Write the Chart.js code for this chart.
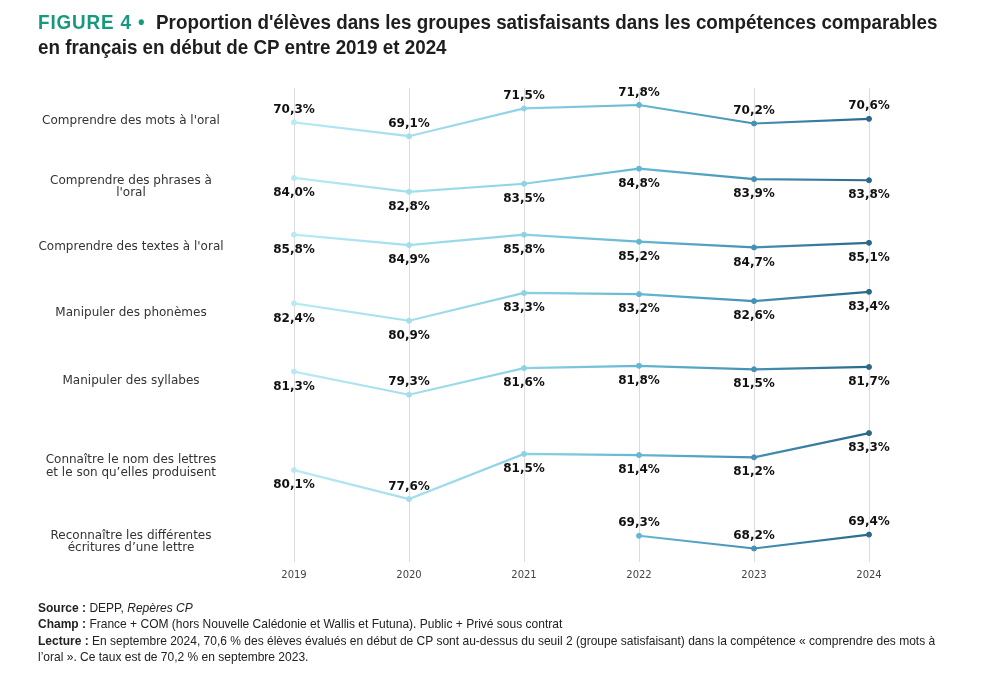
<!DOCTYPE html>
<html lang="fr">
<head>
<meta charset="utf-8">
<script src="https://cdn.jsdelivr.net/npm/chart.js@4"></script>
<style>
  body { margin: 0; background: #fff; }
  #page { position: relative; width: 1000px; height: 674px; overflow: hidden; }
  #myChart { position: absolute; left: 0; top: 0; }
  .title { position: absolute; left: 38px; top: 9px; white-space: nowrap; transform: scaleX(0.896); transform-origin: 0 0; font-family: "Liberation Sans", sans-serif; font-weight: bold; font-size: 21px; line-height: 25px; color: #1e1e1e; }
  .title .fig { color: #17997f; letter-spacing: 1px; }
  .notes { position: absolute; left: 38px; top: 600px; white-space: nowrap; transform: scaleX(0.924); transform-origin: 0 0; font-family: "Liberation Sans", sans-serif; font-size: 13px; line-height: 16.4px; color: #222; }
</style>
</head>
<body>
<div id="page">
  <canvas id="myChart" width="1000" height="674"></canvas>
  <div class="title"><span class="fig">FIGURE 4 &bull;</span>&nbsp; Proportion d'élèves dans les groupes satisfaisants dans les compétences comparables<br>en français en début de CP entre 2019 et 2024</div>
  <div class="notes">
    <b>Source :</b> DEPP, <i>Repères CP</i><br>
    <b>Champ :</b> France + COM (hors Nouvelle Calédonie et Wallis et Futuna). Public + Privé sous contrat<br>
    <b>Lecture :</b> En septembre 2024, 70,6 % des élèves évalués en début de CP sont au-dessus du seuil 2 (groupe satisfaisant) dans la compétence « comprendre des mots à<br>l’oral ». Ce taux est de 70,2 % en septembre 2023.
  </div>
</div>
<script>
// data
var years = ['2019', '2020', '2021', '2022', '2023', '2024'];
var competences = [
    ['Comprendre des mots à l\'oral'],
    ['Comprendre des phrases à', 'l\'oral'],
    ['Comprendre des textes à l\'oral'],
    ['Manipuler des phonèmes'],
    ['Manipuler des syllabes'],
    ['Connaître le nom des lettres', 'et le son qu’elles produisent'],
    ['Reconnaître les différentes', 'écritures d’une lettre']
];
var motsOral = [70.3, 69.1, 71.5, 71.8, 70.2, 70.6];
var phrasesOral = [84.0, 82.8, 83.5, 84.8, 83.9, 83.8];
var textesOral = [85.8, 84.9, 85.8, 85.2, 84.7, 85.1];
var phonemes = [82.4, 80.9, 83.3, 83.2, 82.6, 83.4];
var syllabes = [81.3, 79.3, 81.6, 81.8, 81.5, 81.7];
var nomSonLettres = [80.1, 77.6, 81.5, 81.4, 81.2, 83.3];
var ecrituresLettre = [null, null, null, 69.3, 68.2, 69.4];

// layout: each row gets its own hidden y axis, same spread, shifted down
var rowTop = [73.27, 91.78, 98.49, 101.03, 105.83, 113.15, 108.03];
var rowSpan = 41;
var rowLabelY = [121, 187, 247, 313, 381, 466.5, 541.7];
var labelSide = [
    ['up', 'up', 'up', 'up', 'up', 'up'],
    ['dn', 'dn', 'dn', 'dn', 'dn', 'dn'],
    ['dn', 'dn', 'dn', 'dn', 'dn', 'dn'],
    ['dn', 'dn', 'dn', 'dn', 'dn', 'dn'],
    ['dn', 'up', 'dn', 'dn', 'dn', 'dn'],
    ['dn', 'up', 'dn', 'dn', 'dn', 'dn'],
    ['up', 'up', 'up', 'up', 'up', 'up']
];

var gradCache = null;
function lineGradient(context) {
    var chart = context.chart;
    var area = chart.chartArea;
    if (!area) return '#7fc8dc';
    if (!gradCache) {
        gradCache = chart.ctx.createLinearGradient(area.left, 0, area.right, 0);
        gradCache.addColorStop(0, '#b8eaf4');
        gradCache.addColorStop(0.4, '#8dd2e5');
        gradCache.addColorStop(0.6, '#64b7d2');
        gradCache.addColorStop(0.8, '#4591b4');
        gradCache.addColorStop(1, '#2b6989');
    }
    return gradCache;
}

var rowLabels = {
    id: 'rowLabels',
    afterDraw: function(chart) {
        var ctx = chart.ctx;
        ctx.save();
        ctx.font = '12px "DejaVu Sans"';
        ctx.fillStyle = '#333';
        ctx.textAlign = 'center';
        ctx.textBaseline = 'middle';
        competences.forEach(function(lines, i) {
            var y0 = rowLabelY[i] - (lines.length - 1) * 6.2;
            lines.forEach(function(t, k) {
                ctx.fillText(t, 131, y0 + k * 12.4);
            });
        });
        ctx.restore();
    }
};

var pointLabels = {
    id: 'pointLabels',
    afterDatasetsDraw: function(chart) {
        var ctx = chart.ctx;
        ctx.save();
        ctx.font = 'bold 12px "DejaVu Sans"';
        ctx.fillStyle = '#111';
        ctx.textAlign = 'center';
        ctx.textBaseline = 'middle';
        chart.data.datasets.forEach(function(ds, i) {
            chart.getDatasetMeta(i).data.forEach(function(pt, j) {
                var v = ds.data[j];
                if (v == null) return;
                var dy = labelSide[i][j] === 'up' ? -12.5 : 15;
                ctx.fillText(v.toFixed(1).replace('.', ',') + '%', pt.x, pt.y + dy);
            });
        });
        ctx.restore();
    }
};

window.onload = function(){
    var series = [motsOral, phrasesOral, textesOral, phonemes, syllabes, nomSonLettres, ecrituresLettre];
    var scales = {
        x: {
            type: 'category',
            offset: false,
            grid: { color: '#dcdcdc', lineWidth: 1, drawTicks: false },
            border: { display: false },
            ticks: { color: '#444', padding: 7, font: { family: 'DejaVu Sans', size: 10 } }
        }
    };
    var datasets = series.map(function(d, i) {
        scales['y' + i] = { type: 'linear', display: false, min: rowTop[i] - rowSpan, max: rowTop[i] };
        return {
            label: competences[i].join(' '),
            data: d,
            yAxisID: 'y' + i,
            borderColor: lineGradient,
            backgroundColor: lineGradient,
            pointBackgroundColor: lineGradient,
            pointBorderColor: lineGradient,
            borderWidth: 2.2,
            pointRadius: 2.5,
            pointBorderWidth: 1,
            tension: 0,
            spanGaps: false
        };
    });

    var ctx = document.getElementById('myChart').getContext('2d');
    window.myChart = new Chart(ctx, {
        type: 'line',
        data: { labels: years, datasets: datasets },
        options: {
            responsive: false,
            animation: false,
            layout: { padding: { left: 294, right: 131, top: 88, bottom: 86 } },
            plugins: { legend: { display: false }, tooltip: { enabled: false } },
            scales: scales
        },
        plugins: [rowLabels, pointLabels]
    });
}
</script>
</body>
</html>
